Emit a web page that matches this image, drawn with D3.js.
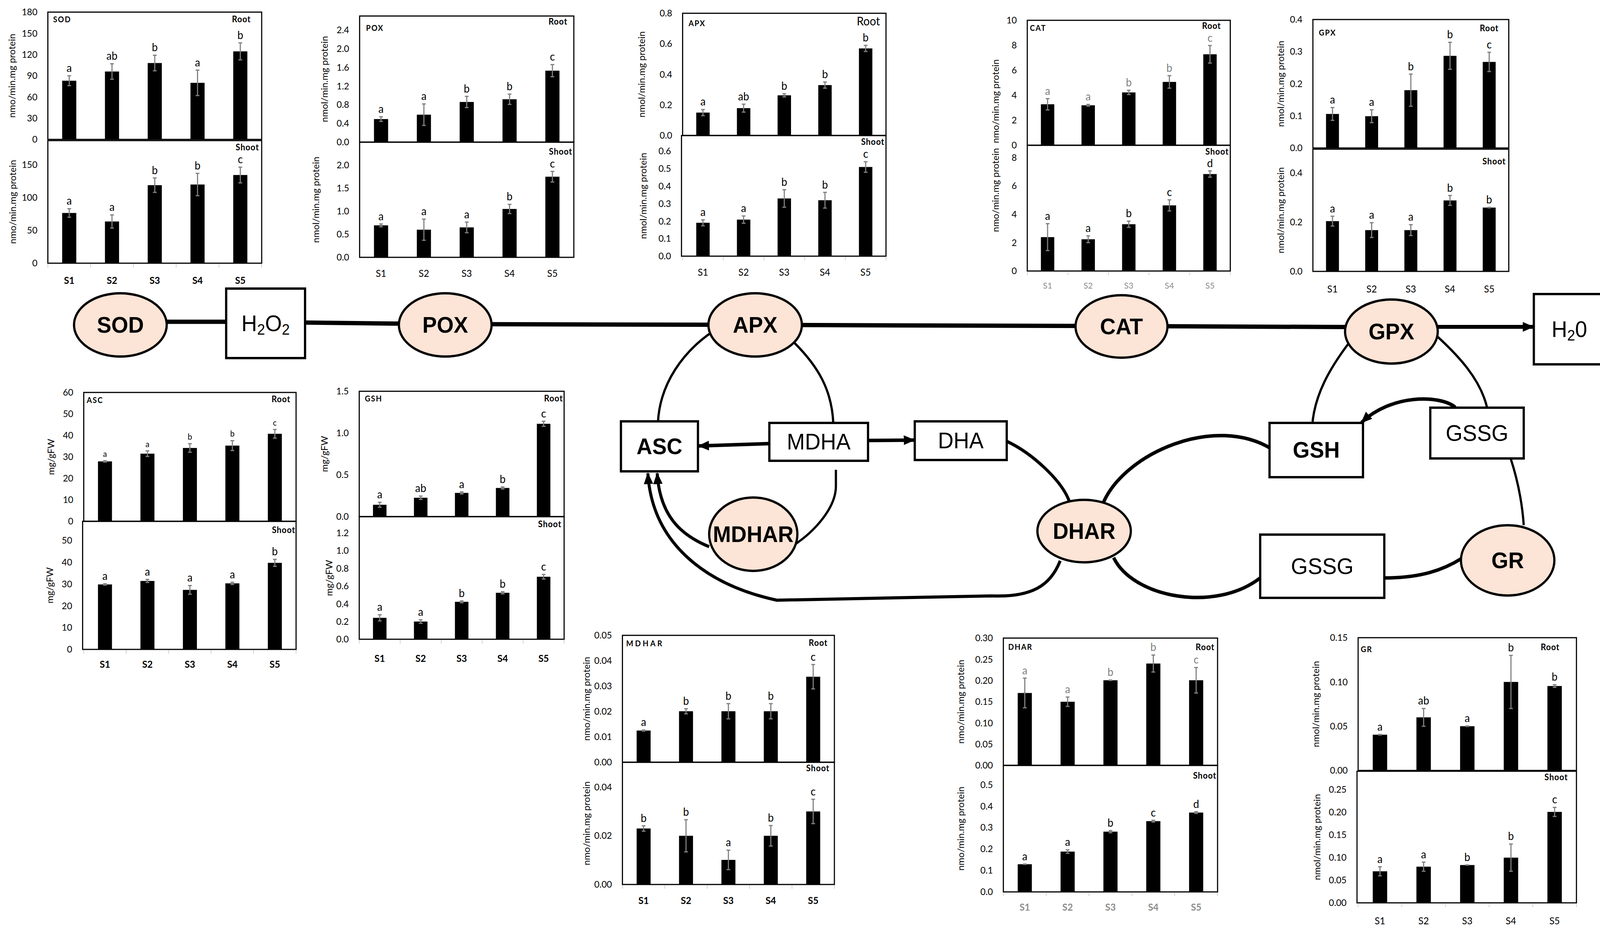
<!DOCTYPE html>
<html><head><meta charset="utf-8">
<script src="https://cdn.jsdelivr.net/npm/d3@7"></script>
<style>
html,body{margin:0;padding:0;width:100%;height:100%;overflow:hidden;background:#fff}
#fig{display:block;width:100vw;height:100vh}
</style>
</head><body>
<svg id="fig" viewBox="0 0 4280 2379" preserveAspectRatio="none" xmlns="http://www.w3.org/2000/svg"></svg>
<script>
// ---------------- DATA ----------------
const categories = ["S1","S2","S3","S4","S5"];

// SOD
const sodRootMax = 180, sodShootMax = 187;
const sodRootTicks = [0,30,60,90,120,150,180];
const sodRootValues = [83,96,108,80,124.5];
const sodRootErrors = [7,11,11,18,12];
const sodRootLetters = ["a","ab","b","a","b"];
const sodShootTicks = [0,50,100,150];
const sodShootValues = [76.6,63.6,119,120,134.5];
const sodShootErrors = [6.5,10,11,17,12];
const sodShootLetters = ["a","a","b","b","c"];

// POX
const poxRootMax = 2.7, poxShootMax = 2.5;
const poxRootTicks = [0,0.4,0.8,1.2,1.6,2.0,2.4];
const poxRootValues = [0.494,0.588,0.86,0.918,1.53];
const poxRootErrors = [0.05,0.23,0.12,0.11,0.13];
const poxRootLetters = ["a","a","b","b","c"];
const poxShootTicks = [0,0.5,1.0,1.5,2.0];
const poxShootValues = [0.694,0.60,0.65,1.05,1.75];
const poxShootErrors = [0.03,0.23,0.115,0.10,0.115];
const poxShootLetters = ["a","a","a","b","c"];

// APX
const apxRootMax = 0.8, apxShootMax = 0.69;
const apxRootTicks = [0,0.2,0.4,0.6,0.8];
const apxRootValues = [0.15,0.179,0.263,0.33,0.57];
const apxRootErrors = [0.02,0.026,0.01,0.02,0.02];
const apxRootLetters = ["a","ab","b","b","b"];
const apxShootTicks = [0,0.1,0.2,0.3,0.4,0.5,0.6];
const apxShootValues = [0.191,0.209,0.33,0.32,0.51];
const apxShootErrors = [0.017,0.021,0.05,0.045,0.03];
const apxShootLetters = ["a","a","b","b","c"];

// CAT
const catRootMax = 10, catShootMax = 8.87;
const catRootTicks = [0,2,4,6,8,10];
const catRootValues = [3.28,3.2,4.23,5.07,7.28];
const catRootErrors = [0.45,0.07,0.17,0.5,0.7];
const catRootLetters = ["a","a","b","b","c"];
const catShootTicks = [0,2,4,6,8];
const catShootValues = [2.39,2.24,3.3,4.63,6.84];
const catShootErrors = [0.95,0.24,0.22,0.39,0.22];
const catShootLetters = ["a","a","b","c","d"];

// GPX
const gpxRootMax = 0.4, gpxShootMax = 0.496;
const gpxRootTicks = [0,0.1,0.2,0.3,0.4];
const gpxRootValues = [0.106,0.099,0.18,0.287,0.268];
const gpxRootErrors = [0.02,0.02,0.05,0.042,0.03];
const gpxRootLetters = ["a","a","b","b","c"];
const gpxShootTicks = [0,0.2,0.4];
const gpxShootValues = [0.204,0.1675,0.1675,0.288,0.259];
const gpxShootErrors = [0.02,0.03,0.022,0.02,0.001];
const gpxShootLetters = ["a","a","a","b","b"];

// ASC
const ascRootMax = 60, ascShootMax = 58.75;
const ascRootTicks = [0,10,20,30,40,50,60];
const ascRootValues = [27.9,31.5,34.15,35.25,40.76];
const ascRootErrors = [0.3,1.3,2,2.3,2];
const ascRootLetters = ["a","a","b","b","c"];
const ascShootTicks = [0,10,20,30,40,50];
const ascShootValues = [29.8,31.4,27.3,30.3,39.7];
const ascShootErrors = [0.3,0.7,2,0.5,1.6];
const ascShootLetters = ["a","a","a","a","b"];

// GSH
const gshRootMax = 1.5, gshShootMax = 1.385;
const gshRootTicks = [0,0.5,1.0,1.5];
const gshRootValues = [0.142,0.226,0.284,0.343,1.111];
const gshRootErrors = [0.03,0.02,0.012,0.012,0.03];
const gshRootLetters = ["a","ab","a","b","c"];
const gshShootTicks = [0,0.2,0.4,0.6,0.8,1.0,1.2];
const gshShootValues = [0.242,0.2,0.423,0.525,0.706];
const gshShootErrors = [0.035,0.02,0.01,0.012,0.026];
const gshShootLetters = ["a","a","b","b","c"];

// MDHAR
const mdharRootMax = 0.05, mdharShootMax = 0.0502;
const mdharRootTicks = [0,0.01,0.02,0.03,0.04,0.05];
const mdharRootValues = [0.0125,0.0201,0.0201,0.0201,0.0337];
const mdharRootErrors = [0.0002,0.001,0.003,0.003,0.0048];
const mdharRootLetters = ["a","b","b","b","c"];
const mdharShootTicks = [0,0.02,0.04];
const mdharShootValues = [0.023,0.02,0.0101,0.02,0.030];
const mdharShootErrors = [0.0011,0.0066,0.004,0.0042,0.005];
const mdharShootLetters = ["b","b","a","b","c"];

// DHAR
const dharRootMax = 0.30, dharShootMax = 0.59;
const dharRootTicks = [0,0.05,0.10,0.15,0.20,0.25,0.30];
const dharRootValues = [0.1706,0.15,0.2006,0.24,0.2006];
const dharRootErrors = [0.035,0.011,0.0005,0.02,0.03];
const dharRootLetters = ["a","a","b","b","c"];
const dharShootTicks = [0,0.1,0.2,0.3,0.4,0.5];
const dharShootValues = [0.129,0.188,0.281,0.33,0.37];
const dharShootErrors = [0.001,0.008,0.005,0.004,0.004];
const dharShootLetters = ["a","a","b","c","d"];

// GR
const grRootMax = 0.15, grShootMax = 0.29;
const grRootTicks = [0,0.05,0.10,0.15];
const grRootValues = [0.0404,0.06,0.05,0.1,0.0954];
const grRootErrors = [0.0003,0.01,0.0003,0.03,0.0015];
const grRootLetters = ["a","ab","a","b","b"];
const grShootTicks = [0,0.05,0.10,0.15,0.20,0.25];
const grShootValues = [0.0695,0.0797,0.0833,0.0996,0.2004];
const grShootErrors = [0.01,0.01,0.0003,0.03,0.01];
const grShootLetters = ["a","a","b","b","c"];

// ---------------- CHART TABLE ----------------
const chartData = [
 {name:"SOD", rootMax:sodRootMax, shootMax:sodShootMax, rootTicks:sodRootTicks, shootTicks:sodShootTicks,
  rootValues:sodRootValues, rootErrors:sodRootErrors, rootLetters:sodRootLetters,
  shootValues:sodShootValues, shootErrors:sodShootErrors, shootLetters:sodShootLetters, unit:"nmo/min.mg protein"},
 {name:"POX", rootMax:poxRootMax, shootMax:poxShootMax, rootTicks:poxRootTicks, shootTicks:poxShootTicks,
  rootValues:poxRootValues, rootErrors:poxRootErrors, rootLetters:poxRootLetters,
  shootValues:poxShootValues, shootErrors:poxShootErrors, shootLetters:poxShootLetters, unit:"nmol/min.mg protein"},
 {name:"APX", rootMax:apxRootMax, shootMax:apxShootMax, rootTicks:apxRootTicks, shootTicks:apxShootTicks,
  rootValues:apxRootValues, rootErrors:apxRootErrors, rootLetters:apxRootLetters,
  shootValues:apxShootValues, shootErrors:apxShootErrors, shootLetters:apxShootLetters, unit:"nmol/min.mg protein"},
 {name:"CAT", rootMax:catRootMax, shootMax:catShootMax, rootTicks:catRootTicks, shootTicks:catShootTicks,
  rootValues:catRootValues, rootErrors:catRootErrors, rootLetters:catRootLetters,
  shootValues:catShootValues, shootErrors:catShootErrors, shootLetters:catShootLetters, unit:"nmo/min.mg protein  nmo/min.mg protein"},
 {name:"GPX", rootMax:gpxRootMax, shootMax:gpxShootMax, rootTicks:gpxRootTicks, shootTicks:gpxShootTicks,
  rootValues:gpxRootValues, rootErrors:gpxRootErrors, rootLetters:gpxRootLetters,
  shootValues:gpxShootValues, shootErrors:gpxShootErrors, shootLetters:gpxShootLetters, unit:"nmol/min.mg protein"},
 {name:"ASC", rootMax:ascRootMax, shootMax:ascShootMax, rootTicks:ascRootTicks, shootTicks:ascShootTicks,
  rootValues:ascRootValues, rootErrors:ascRootErrors, rootLetters:ascRootLetters,
  shootValues:ascShootValues, shootErrors:ascShootErrors, shootLetters:ascShootLetters, unit:"mg/gFW"},
 {name:"GSH", rootMax:gshRootMax, shootMax:gshShootMax, rootTicks:gshRootTicks, shootTicks:gshShootTicks,
  rootValues:gshRootValues, rootErrors:gshRootErrors, rootLetters:gshRootLetters,
  shootValues:gshShootValues, shootErrors:gshShootErrors, shootLetters:gshShootLetters, unit:"mg/gFW"},
 {name:"MDHAR", rootMax:mdharRootMax, shootMax:mdharShootMax, rootTicks:mdharRootTicks, shootTicks:mdharShootTicks,
  rootValues:mdharRootValues, rootErrors:mdharRootErrors, rootLetters:mdharRootLetters,
  shootValues:mdharShootValues, shootErrors:mdharShootErrors, shootLetters:mdharShootLetters, unit:"nmo/min.mg protein"},
 {name:"DHAR", rootMax:dharRootMax, shootMax:dharShootMax, rootTicks:dharRootTicks, shootTicks:dharShootTicks,
  rootValues:dharRootValues, rootErrors:dharRootErrors, rootLetters:dharRootLetters,
  shootValues:dharShootValues, shootErrors:dharShootErrors, shootLetters:dharShootLetters, unit:"nmo/min.mg protein"},
 {name:"GR", rootMax:grRootMax, shootMax:grShootMax, rootTicks:grRootTicks, shootTicks:grShootTicks,
  rootValues:grRootValues, rootErrors:grRootErrors, rootLetters:grRootLetters,
  shootValues:grShootValues, shootErrors:grShootErrors, shootLetters:grShootLetters, unit:"nmol/min.mg protein"}
];

// ---------------- LAYOUT (positions / styles) ----------------
const layouts = {
 SOD:  {left:128, right:700, rootTop:31, rootBottom:357, shootTop:360, shootBottom:674, fmt:["d","d"], tdx:[96,94],
        xlabDy:43, xlabWeight:"bold", xTicks:true, nm:[14,26], rt:[-29,26], sh:[-7,25]},
 POX:  {left:962, right:1535, rootTop:41, rootBottom:364, shootTop:364, shootBottom:659, fmt:[".1f",".1f"], tdx:[95,117],
        xlabDy:40, xlabWeight:"normal", xTicks:false, nm:[17,38], rt:[-17,22], sh:[-4,32]},
 APX:  {left:1826, shootLeft:1823, right:2370, rootTop:34, rootBottom:347, shootTop:347, shootBottom:656, fmt:[".1f",".1f"], tdx:[110,103],
        xlabDy:40, xlabWeight:"normal", xTicks:true, nm:[16,33], rt:[-16,31], sh:[-4,24], rootRegular:true},
 CAT:  {left:2748, right:3291, rootTop:52, rootBottom:372, shootTop:372, shootBottom:694, fmt:["d","d"], tdx:[85,85], combined:true,
        xlabDy:37, xlabWeight:"normal", xlabColor:"#8c8c8c", xlabSize:22, xTicks:true, nm:[7,27], rt:[-25,22], sh:[-4,24], rootLetterColor:"#7f7f7f"},
 GPX:  {left:3512, right:4036, rootTop:50, rootBottom:379, shootTop:382, shootBottom:695, fmt:[".1f",".1f"], tdx:[87,87],
        xlabDy:44, xlabWeight:"normal", xTicks:false, nm:[16,41], rt:[-27,30], sh:[-8,39]},
 ASC:  {left:224, shootLeft:221, right:792, rootTop:1005, rootBottom:1335, shootTop:1335, shootBottom:1663, fmt:["d","d"], tdx:[88,88],
        xlabDy:37, xlabWeight:"bold", xTicks:true, nm:[8,27], rt:[-15,25], sh:[-2,30], rootLetterSize:21},
 GSH:  {left:961, right:1509, rootTop:1002, rootBottom:1323, shootTop:1323, shootBottom:1637, fmt:[".1f",".1f"], tdx:[93,81],
        xlabDy:48, xlabWeight:"bold", xTicks:true, nm:[15,26], rt:[-3,26], sh:[-7,27]},
 MDHAR:{left:1665, right:2232, rootTop:1627, rootBottom:1952, shootTop:1952, shootBottom:2265, fmt:[".2f",".2f"], tdx:[96,96],
        xlabDy:40, xlabWeight:"bold", xTicks:true, nm:[10,28], rt:[-18,27], sh:[-13,23], nameSpacing:5},
 DHAR: {left:2684, right:3257, rootTop:1634, rootBottom:1960, shootTop:1960, shootBottom:2284, fmt:[".2f",".1f"], tdx:[114,114],
        xlabDy:38, xlabWeight:"bold", xlabColor:"#8c8c8c", xTicks:true, nm:[13,30], rt:[-8,31], sh:[-3,34], rootLetterColor:"#7f7f7f"},
 GR:   {left:3633, shootLeft:3630, right:4217, rootTop:1633, rootBottom:1973, shootTop:1975, shootBottom:2312, fmt:[".2f",".2f"], tdx:[113,107],
        xlabDy:45, xlabWeight:"normal", xTicks:true, nm:[7,37], rt:[-45,32], sh:[-23,23]}
};

const svg = d3.select("#fig");
svg.append("rect").attr("width",4280).attr("height",2379).attr("fill","#fff");
const FONT = "Lato, 'Open Sans', 'Noto Sans', sans-serif";
const ERR = "#7f7f7f";

function drawChart(d, L) {
  const g = svg.append("g").attr("font-family", FONT);
  const x = d3.scaleBand().domain(categories).range([L.left, L.right]);
  const bw = x.bandwidth() * 0.33;
  const cx = c => x(c) + x.bandwidth() / 2;
  const panels = [
    {top:L.rootTop, bottom:L.rootBottom, left:L.left, max:d.rootMax, ticks:d.rootTicks, fmt:L.fmt[0],
     rows:categories.map((c,i)=>({c, v:d.rootValues[i], e:d.rootErrors[i], l:d.rootLetters[i]})),
     letterColor:L.rootLetterColor||"#000", letterSize:L.rootLetterSize||28, tdx:L.tdx[0]},
    {top:L.shootTop, bottom:L.shootBottom, left:(L.shootLeft!=null?L.shootLeft:L.left), max:d.shootMax, ticks:d.shootTicks, fmt:L.fmt[1],
     rows:categories.map((c,i)=>({c, v:d.shootValues[i], e:d.shootErrors[i], l:d.shootLetters[i]})),
     letterColor:"#000", letterSize:28, tdx:L.tdx[1]}
  ];
  panels.forEach((p, pi) => {
    const y = d3.scaleLinear().domain([0, p.max]).range([p.bottom, p.top]);
    g.append("g").selectAll("rect").data(p.rows).join("rect")
      .attr("x", r => cx(r.c) - bw/2).attr("y", r => y(r.v))
      .attr("width", bw).attr("height", r => y(0) - y(r.v)).attr("fill", "#000");
    const eb = g.append("g").attr("stroke", ERR).attr("stroke-width", 3);
    eb.selectAll("line.v").data(p.rows).join("line").attr("class","v")
      .attr("x1", r => cx(r.c)).attr("x2", r => cx(r.c))
      .attr("y1", r => y(r.v - r.e)).attr("y2", r => y(r.v + r.e));
    eb.selectAll("line.t").data(p.rows).join("line").attr("class","t")
      .attr("x1", r => cx(r.c) - 5).attr("x2", r => cx(r.c) + 5)
      .attr("y1", r => y(r.v + r.e)).attr("y2", r => y(r.v + r.e));
    eb.selectAll("line.b").data(p.rows).join("line").attr("class","b")
      .attr("x1", r => cx(r.c) - 5).attr("x2", r => cx(r.c) + 5)
      .attr("y1", r => y(r.v - r.e)).attr("y2", r => y(r.v - r.e));
    g.append("g").selectAll("text").data(p.rows).join("text")
      .attr("x", r => cx(r.c)).attr("y", r => y(r.v + r.e) - 10)
      .attr("text-anchor", "middle").attr("font-size", p.letterSize).attr("fill", p.letterColor)
      .text(r => r.l);
    g.append("rect").attr("x", p.left).attr("y", p.top).attr("width", L.right - p.left)
      .attr("height", p.bottom - p.top).attr("fill", "none").attr("stroke", "#000").attr("stroke-width", 3);
    const ax = g.append("g").attr("transform", `translate(${p.left},0)`)
      .call(d3.axisLeft(y).tickValues(p.ticks).tickFormat(d3.format(p.fmt)).tickSize(0).tickPadding(28));
    ax.select(".domain").remove();
    ax.attr("font-family", FONT).attr("font-size", 24);
    ax.selectAll("text").attr("fill", "#000");
    if (!L.combined) {
      g.append("text").attr("transform", `translate(${p.left - p.tdx},${(p.top + p.bottom)/2}) rotate(-90)`)
        .attr("text-anchor", "middle").attr("dominant-baseline", "central")
        .attr("font-size", 24).text(d.unit);
    }
  });
  if (L.combined) {
    g.append("text").attr("transform", `translate(${L.left - L.tdx[0]},${(L.rootTop + L.shootBottom)/2}) rotate(-90)`)
      .attr("text-anchor", "middle").attr("dominant-baseline", "central")
      .attr("font-size", 24).style("white-space","pre").text(d.unit);
  }
  if (L.xTicks) {
    const bounds = categories.map(c => x(c)).concat([L.right]);
    g.append("g").selectAll("line").data(bounds).join("line")
      .attr("x1", b => b).attr("x2", b => b).attr("y1", L.shootBottom + 2).attr("y2", L.shootBottom + 11)
      .attr("stroke", "#d0d0d0").attr("stroke-width", 2);
  }
  g.append("g").selectAll("text").data(categories).join("text")
    .attr("x", c => cx(c)).attr("y", L.shootBottom + L.xlabDy)
    .attr("text-anchor", "middle").attr("dominant-baseline", "central")
    .attr("font-size", L.xlabSize || 25).attr("font-weight", L.xlabWeight).attr("fill", L.xlabColor || "#000")
    .text(c => c);
  g.append("text").attr("x", L.left + L.nm[0]).attr("y", L.rootTop + L.nm[1])
    .attr("font-size", 20).attr("font-weight", "bold").attr("letter-spacing", L.nameSpacing || 2).text(d.name);
  const rt = g.append("text").attr("x", L.right + L.rt[0]).attr("y", L.rootTop + L.rt[1]).attr("text-anchor", "end").text("Root");
  if (L.rootRegular) rt.attr("font-size", 30); else rt.attr("font-size", 22).attr("font-weight", "bold").attr("letter-spacing", 1);
  g.append("text").attr("x", L.right + L.sh[0]).attr("y", L.shootTop + L.sh[1]).attr("text-anchor", "end")
    .attr("font-size", 22).attr("font-weight", "bold").attr("letter-spacing", 1).text("Shoot");
}

chartData.forEach(d => drawChart(d, layouts[d.name]));

// ---------------- PATHWAY DIAGRAM ----------------
const DF = "'Liberation Sans', Arial, Helvetica, sans-serif";
const defs = svg.append("defs");
defs.append("marker").attr("id", "arr").attr("viewBox", "0 0 12 10").attr("refX", 11).attr("refY", 5)
  .attr("markerWidth", 30).attr("markerHeight", 25).attr("markerUnits", "userSpaceOnUse").attr("orient", "auto")
  .append("path").attr("d", "M0,0L12,5L0,10z").attr("fill", "#000");

const dg = svg.append("g").attr("font-family", DF);
const links = [
  {d:"M322,824 L605,824", w:11},
  {d:"M816,826 L1191,830 L2020,832 L3000,835 L3722,838", w:11},
  {d:"M3846,837 L4101,837", w:10, arrow:true},
  {d:"M2058,1136 L1869,1142", w:9, arrow:true},
  {d:"M2322,1128 L2445,1127", w:9, arrow:true},
  {d:"M1902,852 C1830,900 1765,980 1760,1082", w:6},
  {d:"M2125,878 C2190,940 2225,1000 2229,1083", w:6},
  {d:"M2236,1203 L2236,1245 C2236,1300 2180,1360 2125,1395", w:6},
  {d:"M1897,1400 C1820,1370 1765,1320 1758,1212", w:8, arrow:true},
  {d:"M2836,1436 C2810,1500 2760,1530 2652,1526 L2078,1537 C1900,1500 1745,1400 1733,1212", w:8, arrow:true},
  {d:"M2693,1130 C2760,1160 2840,1230 2860,1283", w:8},
  {d:"M2952,1286 C3010,1160 3250,1060 3402,1150", w:9},
  {d:"M2979,1428 C3030,1530 3250,1570 3371,1480", w:9},
  {d:"M3703,1480 C3800,1480 3860,1460 3910,1430", w:9},
  {d:"M3607,880 C3560,940 3515,1010 3510,1093", w:6},
  {d:"M3843,860 C3900,910 3960,970 3978,1044", w:6},
  {d:"M3893,1043 C3850,1010 3720,1010 3642,1082", w:9, arrow:true},
  {d:"M4041,1174 C4060,1230 4072,1290 4076,1345", w:6}
];
dg.append("g").selectAll("path").data(links).join("path")
  .attr("d", l => l.d).attr("fill", "none").attr("stroke", "#000").attr("stroke-width", l => l.w)
  .attr("marker-end", l => l.arrow ? "url(#arr)" : null);

const enzymes = [
  {t:"SOD", cx:322, cy:832, rx:124, ry:81},
  {t:"POX", cx:1191, cy:832, rx:124, ry:81},
  {t:"APX", cx:2020, cy:832, rx:125, ry:81},
  {t:"CAT", cx:3000, cy:836, rx:123, ry:80},
  {t:"GPX", cx:3722, cy:849, rx:124, ry:82},
  {t:"MDHAR", cx:2015, cy:1368, rx:118, ry:94},
  {t:"DHAR", cx:2900, cy:1360, rx:125, ry:80},
  {t:"GR", cx:4033, cy:1435, rx:125, ry:90}
];
const eg = dg.append("g");
eg.selectAll("ellipse").data(enzymes).join("ellipse")
  .attr("cx", e => e.cx).attr("cy", e => e.cy).attr("rx", e => e.rx).attr("ry", e => e.ry)
  .attr("fill", "#FCE4D6").attr("stroke", "#000").attr("stroke-width", 6);
eg.selectAll("text").data(enzymes).join("text")
  .attr("x", e => e.cx).attr("y", e => e.cy).attr("text-anchor", "middle").attr("dominant-baseline", "central")
  .attr("font-size", 58).attr("font-weight", "bold").text(e => e.t);

const boxes = [
  {t:"H2O2", x:605, y:739, w:211, h:178, sub:true},
  {t:"H20", x:4103, y:753, w:190, h:180, sub:true},
  {t:"ASC", x:1661, y:1079, w:206, h:128, bold:true},
  {t:"MDHA", x:2058, y:1083, w:264, h:97},
  {t:"DHA", x:2447, y:1079, w:246, h:99},
  {t:"GSH", x:3396, y:1083, w:250, h:139, bold:true},
  {t:"GSSG", x:3826, y:1044, w:250, h:130},
  {t:"GSSG", x:3371, y:1369, w:332, h:162}
];
const bg = dg.append("g");
bg.selectAll("rect").data(boxes).join("rect")
  .attr("x", b => b.x).attr("y", b => b.y).attr("width", b => b.w).attr("height", b => b.h)
  .attr("fill", "#fff").attr("stroke", "#000").attr("stroke-width", 6);
boxes.forEach(b => {
  const t = bg.append("text").attr("x", b.x + b.w/2).attr("y", b.y + b.h/2).attr("text-anchor", "middle")
    .attr("dominant-baseline", "central").attr("font-size", 58).attr("font-weight", b.bold ? "bold" : "normal");
  if (b.sub) {
    b.t.split("").forEach((ch, i) => {
      const isSub = ch === "2";
      t.append("tspan").text(ch).attr("font-size", isSub ? 38 : 58).attr("dy", isSub ? 16 : (i > 0 ? -16 : 0));
    });
  } else t.text(b.t);
});
</script>
</body></html>
